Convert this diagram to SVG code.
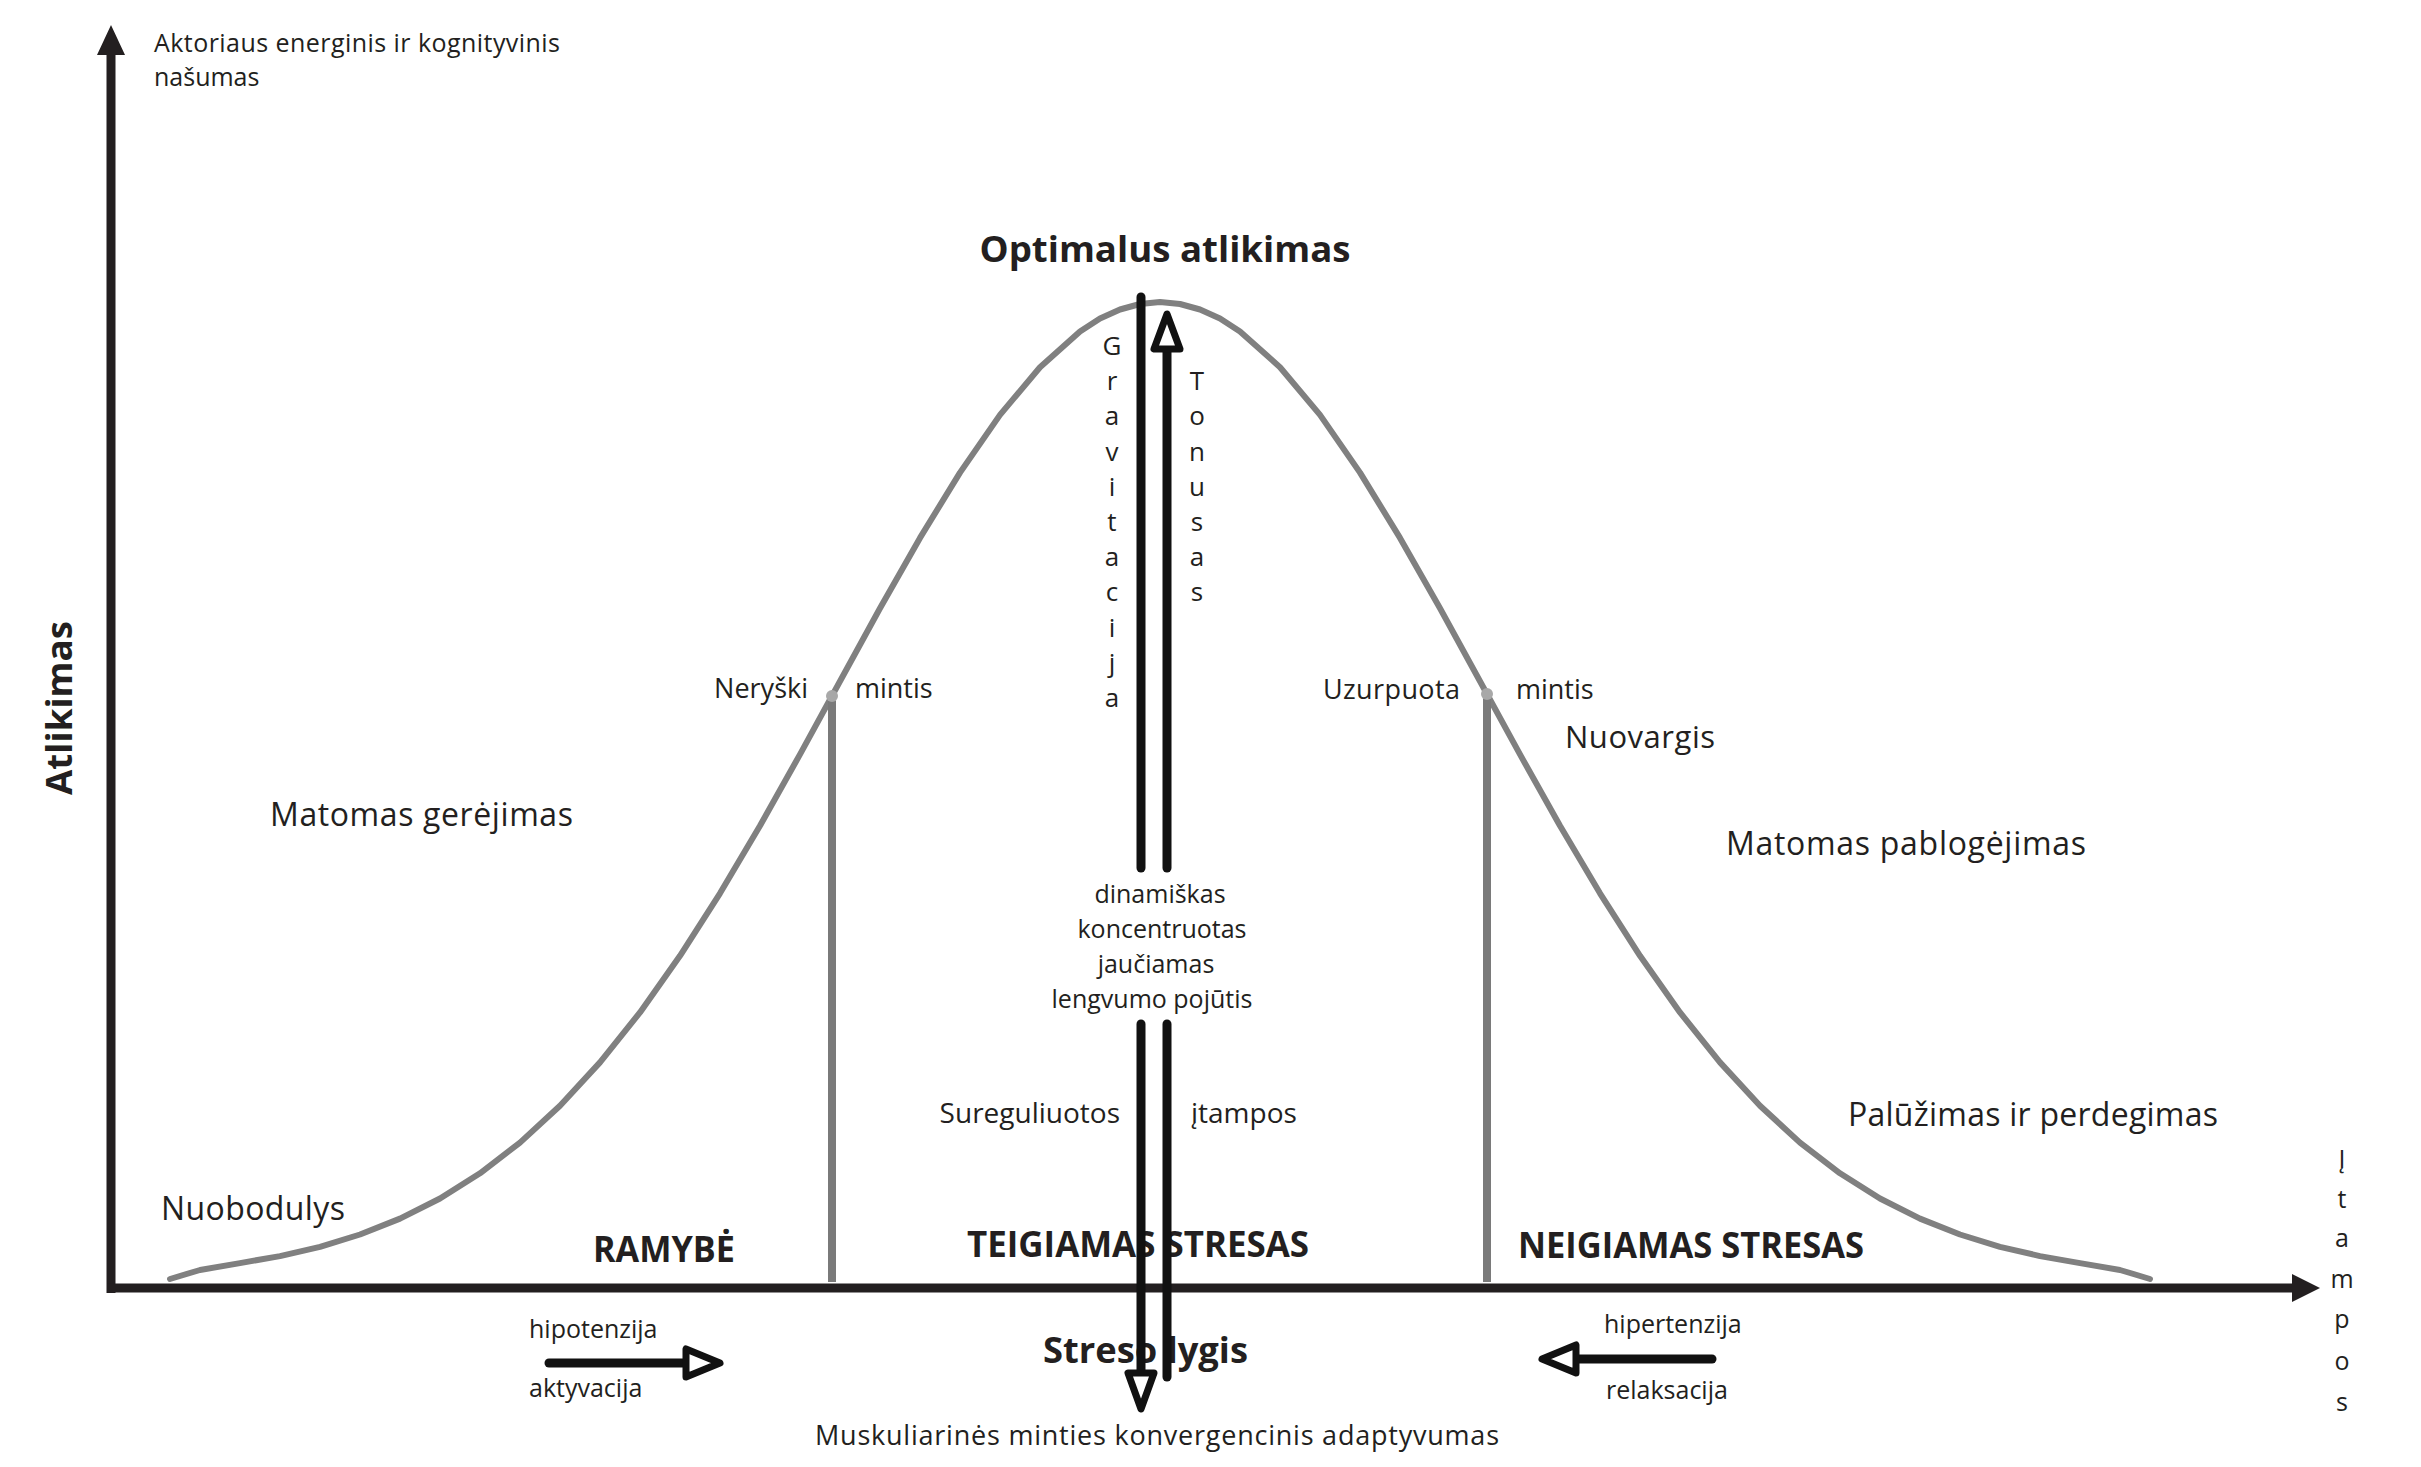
<svg xmlns="http://www.w3.org/2000/svg" width="2421" height="1467" viewBox="0 0 2421 1467">
<style>
text{font-family:"Open Sans","Liberation Sans",sans-serif;fill:#231f20}
.b{font-weight:700;font-size:36px}
.s25{font-size:25px}
.s26{font-size:26px}
.s27{font-size:27px}
.s28{font-size:28px}
.s31{font-size:31px}
.s32{font-size:32px}
.mid{text-anchor:middle}
.end{text-anchor:end}
.axis{stroke:#231f20;stroke-width:9;fill:none}
.head{fill:#231f20}
.curve{stroke:#808080;stroke-width:6;fill:none;stroke-linejoin:round;stroke-linecap:round}
.vline{stroke:#7a7a7a;stroke-width:8}
.dot{fill:#a8a8a8}
.dbl{stroke:#111;stroke-width:9;fill:none;stroke-linecap:round}
.hollow{fill:#fff;stroke:#111;stroke-width:7;stroke-linejoin:round}
.arr{stroke:#111;stroke-width:9;stroke-linecap:round}
</style>
<rect width="2421" height="1467" fill="#fff"/>

<g id="axes">
  <line class="axis" x1="111" y1="1293" x2="111" y2="52"/>
  <polygon class="head" points="111,25 97,55 125,55"/>
  <line class="axis" x1="107" y1="1288" x2="2295" y2="1288"/>
  <polygon class="head" points="2320,1288 2292,1274 2292,1302"/>
</g>

<g id="curve">
  <polyline class="curve" points="170,1279 200,1270 240,1263.1 280,1256.1 320,1246.8 360,1234.5 400,1218.6 440,1198.5 480,1173.3 520,1142.6 560,1105.8 600,1062.4 640,1012.4 680,955.8 720,893.3 760,825.7 800,754.4 840,681.3 880,608.3 920,537.9 960,472.6 1000,414.9 1040,367.2 1080,331.5 1100,318.5 1120,309.5 1140,304 1160,302 1180,304 1200,309.5 1220,318.5 1240,331.5 1280,367.2 1320,414.9 1360,472.6 1400,537.9 1440,608.3 1480,681.3 1520,754.4 1560,825.7 1600,893.3 1640,955.8 1680,1012.4 1720,1062.4 1760,1105.8 1800,1142.6 1840,1173.3 1880,1198.5 1920,1218.6 1960,1234.5 2000,1246.8 2040,1256.1 2080,1263.1 2120,1270 2150,1279"/>
</g>

<g id="marker-left">
  <line class="vline" x1="832" y1="696" x2="832" y2="1282"/>
  <circle class="dot" cx="832" cy="696" r="6"/>
</g>
<g id="marker-right">
  <line class="vline" x1="1487" y1="694" x2="1487" y2="1282"/>
  <circle class="dot" cx="1487" cy="694" r="6"/>
</g>

<g id="y-label">
  <text class="s25" x="154" y="52" textLength="406">Aktoriaus energinis ir kognityvinis</text>
  <text class="s25" x="154" y="86">našumas</text>
</g>
<g id="atlikimas"><text class="b mid" transform="translate(72,708) rotate(-90)" textLength="174" lengthAdjust="spacingAndGlyphs">Atlikimas</text></g>
<g id="optimalus"><text class="b mid" x="1165" y="262" textLength="371" lengthAdjust="spacingAndGlyphs">Optimalus atlikimas</text></g>

<g id="gravitacija">
  <text class="s26 mid" x="1112" y="355">G</text>
  <text class="s26 mid" x="1112" y="390">r</text>
  <text class="s26 mid" x="1112" y="425">a</text>
  <text class="s26 mid" x="1112" y="461">v</text>
  <text class="s26 mid" x="1112" y="496">i</text>
  <text class="s26 mid" x="1112" y="531">t</text>
  <text class="s26 mid" x="1112" y="566">a</text>
  <text class="s26 mid" x="1112" y="601">c</text>
  <text class="s26 mid" x="1112" y="637">i</text>
  <text class="s26 mid" x="1112" y="672">j</text>
  <text class="s26 mid" x="1112" y="707">a</text>
</g>
<g id="tonusas">
  <text class="s26 mid" x="1197" y="390">T</text>
  <text class="s26 mid" x="1197" y="425">o</text>
  <text class="s26 mid" x="1197" y="461">n</text>
  <text class="s26 mid" x="1197" y="496">u</text>
  <text class="s26 mid" x="1197" y="531">s</text>
  <text class="s26 mid" x="1197" y="566">a</text>
  <text class="s26 mid" x="1197" y="601">s</text>
</g>

<g id="neryski">
  <text class="s27 end" x="808" y="698">Neryški</text>
  <text class="s27" x="855" y="698">mintis</text>
</g>
<g id="uzurpuota">
  <text class="s27" x="1323" y="699" textLength="137">Uzurpuota</text>
  <text class="s27" x="1516" y="699">mintis</text>
</g>
<g id="nuovargis"><text class="s31" x="1565" y="748" textLength="150">Nuovargis</text></g>
<g id="gerejimas"><text class="s32" x="270" y="826" textLength="303">Matomas gerėjimas</text></g>
<g id="pablogejimas"><text class="s32" x="1726" y="855" textLength="360">Matomas pablogėjimas</text></g>
<g id="nuobodulys"><text class="s32" x="161" y="1220" textLength="184">Nuobodulys</text></g>
<g id="paluzimas"><text class="s32" x="1848" y="1126" textLength="370">Palūžimas ir perdegimas</text></g>

<g id="centre-text">
  <text class="s25 mid" x="1160" y="903">dinamiškas</text>
  <text class="s25 mid" x="1162" y="938">koncentruotas</text>
  <text class="s25 mid" x="1156" y="973">jaučiamas</text>
  <text class="s25 mid" x="1152" y="1008">lengvumo pojūtis</text>
</g>
<g id="sureguliuotos">
  <text class="s28 end" x="1120" y="1123">Sureguliuotos</text>
  <text class="s28" x="1191" y="1123">įtampos</text>
</g>

<g id="ramybe"><text class="b" x="593" y="1262" textLength="142" lengthAdjust="spacingAndGlyphs">RAMYBĖ</text></g>
<g id="teigiamas"><text class="b" x="967" y="1257" textLength="342" lengthAdjust="spacingAndGlyphs">TEIGIAMAS STRESAS</text></g>
<g id="neigiamas"><text class="b" x="1518" y="1258" textLength="346" lengthAdjust="spacingAndGlyphs">NEIGIAMAS STRESAS</text></g>
<g id="streso-lygis"><text class="b" x="1043" y="1363" textLength="205" lengthAdjust="spacingAndGlyphs">Streso lygis</text></g>
<g id="muskuliarines"><text class="s27" x="815" y="1445" textLength="684">Muskuliarinės minties konvergencinis adaptyvumas</text></g>

<g id="hipotenzija">
  <text class="s25" x="529" y="1338">hipotenzija</text>
  <text class="s25" x="529" y="1397">aktyvacija</text>
</g>
<g id="hipertenzija">
  <text class="s25" x="1604" y="1333">hipertenzija</text>
  <text class="s25" x="1606" y="1399">relaksacija</text>
</g>

<g id="itampos-axis">
  <text class="s25 mid" x="2342" y="1168">Į</text>
  <text class="s25 mid" x="2342" y="1208">t</text>
  <text class="s25 mid" x="2342" y="1247">a</text>
  <text class="s25 mid" x="2342" y="1288">m</text>
  <text class="s25 mid" x="2342" y="1328">p</text>
  <text class="s25 mid" x="2342" y="1370">o</text>
  <text class="s25 mid" x="2342" y="1411">s</text>
</g>

<g id="connectors">
  <line class="dbl" x1="1141" y1="297" x2="1141" y2="868" stroke-linecap="butt"/>
  <line class="dbl" x1="1141" y1="1024" x2="1141" y2="1373" stroke-linecap="butt"/>
  <polygon class="hollow" points="1128,1373 1154,1373 1141,1409"/>
  <line class="dbl" x1="1167" y1="351" x2="1167" y2="868" stroke-linecap="butt"/>
  <line class="dbl" x1="1167" y1="1024" x2="1167" y2="1377"/>
  <polygon class="hollow" points="1167,314 1154,349 1180,349"/>
  <line class="arr" x1="549" y1="1363" x2="686" y2="1363"/>
  <polygon class="hollow" points="686,1349 686,1377 720,1363"/>
  <line class="arr" x1="1712" y1="1359" x2="1576" y2="1359"/>
  <polygon class="hollow" points="1576,1345 1576,1373 1542,1359"/>
</g>
</svg>
